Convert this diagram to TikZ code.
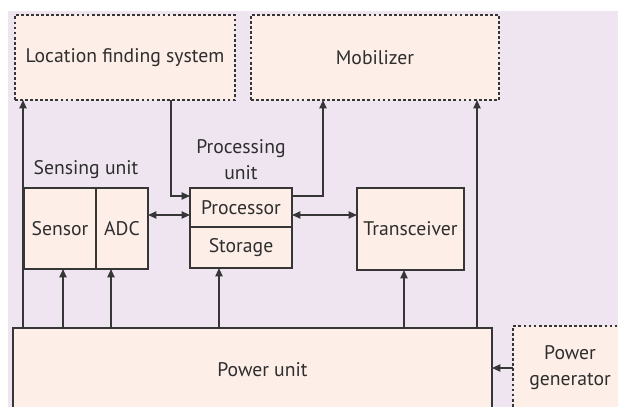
\documentclass[tikz,border=0pt]{standalone}
\usepackage{fontspec}
\setmainfont{PT Sans}
\usepackage{tikz}
\usetikzlibrary{positioning, arrows.meta, calc}

\definecolor{bgc}{HTML}{EFE5F1}
\definecolor{boxc}{HTML}{FDEEE7}
\definecolor{linec}{HTML}{363636}
\definecolor{textc}{HTML}{2E2E2E}
\newdimen\pxu
\pxu=0.025cm

\begin{document}
\begin{tikzpicture}[
  x=0.025cm, y=-0.025cm,
  font=\fontsize{14pt}{18.5pt}\selectfont, text=textc,
  unit/.style={rectangle, draw=linec, line width=1.5pt, fill=boxc, inner sep=0pt, outer sep=0pt, align=center},
  extunit/.style={unit, dash pattern=on 2pt off 1.6pt},
  arr/.style={-{Triangle[length=2.1mm, width=1.8mm]}, line width=1.1pt, draw=linec},
  darr/.style={{Triangle[length=2.1mm, width=1.8mm]}-{Triangle[length=2.1mm, width=1.8mm]}, line width=1.1pt, draw=linec}
]
  \useasboundingbox (0,0) rectangle (618,407);
  \clip (0,0) rectangle (618,407);
  \fill[bgc] (8,11) rectangle (618,407);

  % outer units
  \node[extunit, minimum width=220\pxu, minimum height=85\pxu] (loc) at (125,57.5) {Location finding system};
  \node[extunit, minimum width=248\pxu, minimum height=85\pxu] (mob) at (375,57.5) {Mobilizer};
  \node[extunit, minimum width=114\pxu, minimum height=84\pxu] (gen) at (570,368) {Power\\generator};
  \node[unit, minimum width=479\pxu, minimum height=84\pxu] (power) at (252.5,370) {\hspace{20\pxu}Power unit};

  % sensing and processing
  \node[unit, minimum width=72\pxu, minimum height=81\pxu] (sensor) at (60,228.5) {Sensor};
  \node[unit, minimum width=52\pxu, minimum height=81\pxu, right=0pt of sensor] (adc) {ADC};
  \node[above=4\pxu of $(sensor.north west)!0.5!(adc.north east)$] (sensing) {Sensing unit};
  \node[unit, minimum width=102\pxu, minimum height=39\pxu] (proc) at (241,207.5) {Processor};
  \node[unit, minimum width=102\pxu, minimum height=41\pxu, below=0pt of proc] (stor) {Storage};
  \node[above=3\pxu of proc, align=center] (procunit) {Processing\\unit};
  \node[unit, minimum width=107\pxu, minimum height=82\pxu] (trans) at (410.5,229) {Transceiver};

  % power taps
  \coordinate (t1) at ([xshift=8\pxu]loc.south west);
  \coordinate (t2) at ([xshift=39\pxu]sensor.south west);
  \coordinate (t3) at ([xshift=15\pxu]adc.south west);
  \coordinate (t4) at ([xshift=29\pxu]stor.south west);
  \coordinate (t5) at ([xshift=47\pxu]trans.south west);
  \coordinate (t6) at ([xshift=226\pxu]mob.south west);
  \coordinate (m1) at ([xshift=72\pxu]mob.south west);
  \coordinate (l1) at ([xshift=156\pxu]loc.south west);

  \draw[arr] (t1 |- power.north) -- (t1);
  \draw[arr] (t2 |- power.north) -- (t2);
  \draw[arr] (t3 |- power.north) -- (t3);
  \draw[arr] (t4 |- power.north) -- (t4);
  \draw[arr] (t5 |- power.north) -- (t5);
  \draw[arr] (t6 |- power.north) -- (t6);
  \draw[arr] (gen.west) -- (gen.west -| power.east);

  % data paths
  \draw[arr] (l1) |- ([yshift=-8\pxu]proc.north west);
  \draw[arr] ([yshift=-8\pxu]proc.north east) -| (m1);
  \draw[darr] ([yshift=-27\pxu]adc.north east) -- ([yshift=-27\pxu]proc.north west);
  \draw[darr] ([yshift=-27\pxu]proc.north east) -- ([yshift=-27\pxu]trans.north west);
\end{tikzpicture}
\end{document}
